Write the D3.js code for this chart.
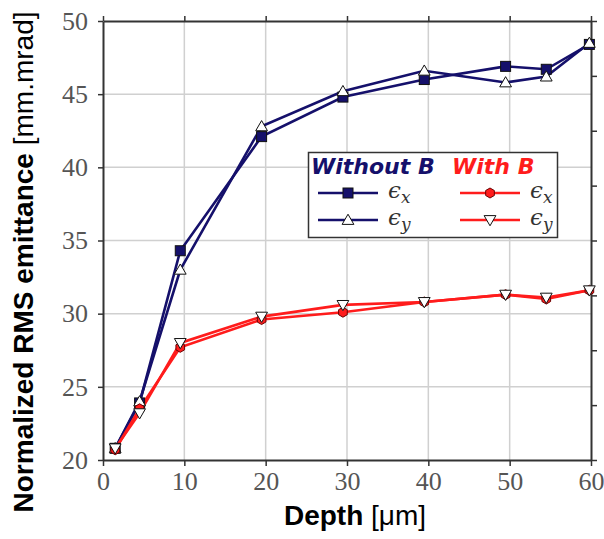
<!DOCTYPE html>
<html>
<head>
<meta charset="utf-8">
<script src="https://cdn.jsdelivr.net/npm/d3@7"></script>
<style>
  body { margin: 0; background: #fff; }
  svg { display: block; }
</style>
</head>
<body>
<script>
// data
var depth = [1.5, 4.5, 9.5, 19.5, 29.5, 39.5, 49.5, 54.5, 59.8]
var sinBx = [20.8, 23.9, 34.3, 42.1, 44.8, 46.0, 46.9, 46.7, 48.4]
var sinBy = [20.8, 24.0, 33.0, 42.8, 45.2, 46.6, 45.8, 46.2, 48.5]
var conBx = [20.7, 23.5, 27.7, 29.6, 30.1, 30.8, 31.3, 31.0, 31.6]
var conBy = [20.8, 23.2, 28.0, 29.8, 30.6, 30.8, 31.3, 31.1, 31.6]
var xTicks = [0, 10, 20, 30, 40, 50, 60]
var yTicks = [20, 25, 30, 35, 40, 45, 50]

var width = 604
var height = 539
var margin = { top: 21, right: 13, bottom: 79, left: 103 }

var navy = "#15106b"
var rojo = "#ff1c1c"

var svg = d3.select("body").append("svg")
  .attr("width", width)
  .attr("height", height)

var escalaX = d3.scaleLinear().domain([0, 60]).range([margin.left, width - margin.right])
var escalaY = d3.scaleLinear().domain([20, 50]).range([height - margin.bottom, margin.top])
// right axis has its own tick spacing (8 intervals), no labels
var escalaDer = d3.scaleLinear().domain([0, 40]).range([height - margin.bottom, margin.top])

// grid
svg.append("g").selectAll("line").data(xTicks.slice(1, -1)).enter().append("line")
  .attr("x1", d => escalaX(d)).attr("x2", d => escalaX(d))
  .attr("y1", escalaY(20)).attr("y2", escalaY(50))
  .attr("stroke", "#d0d0d0").attr("stroke-width", 1.5)
svg.append("g").selectAll("line").data(yTicks.slice(1, -1)).enter().append("line")
  .attr("y1", d => escalaY(d)).attr("y2", d => escalaY(d))
  .attr("x1", escalaX(0)).attr("x2", escalaX(60))
  .attr("stroke", "#d0d0d0").attr("stroke-width", 1.5)

function estiloEje(g) {
  g.select(".domain").attr("stroke", "#333").attr("stroke-width", 2)
  g.selectAll(".tick line").attr("stroke", "#333").attr("stroke-width", 1.5)
  g.selectAll(".tick text")
    .attr("fill", "#555")
    .style("font-family", "'Liberation Serif', 'DejaVu Serif', serif")
    .style("font-size", "26px")
}

svg.append("g")
  .attr("transform", "translate(0," + escalaY(20) + ")")
  .call(d3.axisBottom(escalaX).tickValues(xTicks).tickSizeInner(6).tickSizeOuter(0).tickPadding(6))
  .call(estiloEje)

svg.append("g")
  .attr("transform", "translate(0," + escalaY(50) + ")")
  .call(d3.axisTop(escalaX).tickValues(xTicks).tickSizeInner(5).tickSizeOuter(0).tickFormat(""))
  .call(estiloEje)

svg.append("g")
  .attr("transform", "translate(" + escalaX(0) + ",0)")
  .call(d3.axisLeft(escalaY).tickValues(yTicks).tickSizeInner(5).tickSizeOuter(0).tickPadding(10))
  .call(estiloEje)

svg.append("g")
  .attr("transform", "translate(" + escalaX(60) + ",0)")
  .call(d3.axisRight(escalaDer).ticks(8).tickSizeInner(6).tickSizeOuter(0).tickFormat(""))
  .call(estiloEje)

// series
var series = [
  { vals: sinBx, color: navy, marca: "cuadrado" },
  { vals: sinBy, color: navy, marca: "triArriba" },
  { vals: conBx, color: rojo, marca: "hexagono" },
  { vals: conBy, color: rojo, marca: "triAbajo" }
]

var hexagono = d3.lineRadial().curve(d3.curveLinearClosed)
  .angle(d => d * Math.PI / 3).radius(5)

function pintarMarca(g, tipo) {
  if (tipo == "cuadrado") {
    g.append("rect").attr("x", -5).attr("y", -5).attr("width", 10).attr("height", 10)
      .attr("fill", navy).attr("stroke", "#111").attr("stroke-width", 1)
  } else if (tipo == "triArriba") {
    g.append("path").attr("d", d3.symbol(d3.symbolTriangle, 60)())
      .attr("transform", "translate(0,1)")
      .attr("fill", "#fff").attr("stroke", "#111").attr("stroke-width", 1)
  } else if (tipo == "triAbajo") {
    g.append("path").attr("d", d3.symbol(d3.symbolTriangle, 60)())
      .attr("transform", "translate(0,-1) rotate(180)")
      .attr("fill", "#fff").attr("stroke", "#111").attr("stroke-width", 1)
  } else {
    g.append("path").attr("d", hexagono(d3.range(6)))
      .attr("fill", rojo).attr("stroke", "#6a0000").attr("stroke-width", 1)
  }
}

var linea = d3.line().x((d, i) => escalaX(depth[i])).y(d => escalaY(d))

series.forEach(function (s) {
  svg.append("path")
    .attr("d", linea(s.vals))
    .attr("fill", "none")
    .attr("stroke", s.color)
    .attr("stroke-width", 2.6)
})
series.forEach(function (s) {
  s.vals.forEach(function (v, i) {
    var g = svg.append("g").attr("transform", "translate(" + escalaX(depth[i]) + "," + escalaY(v) + ")")
    pintarMarca(g, s.marca)
  })
})

// legend
var ley = svg.append("g")
ley.append("rect").attr("x", 308.5).attr("y", 152.5).attr("width", 249).attr("height", 85)
  .attr("fill", "#fff").attr("stroke", "#333").attr("stroke-width", 1.5)

var titulos = [
  { txt: "Without B", x: 311, color: navy },
  { txt: "With B", x: 452, color: rojo }
]
titulos.forEach(function (t) {
  ley.append("text").attr("x", t.x).attr("y", 174).text(t.txt)
    .attr("fill", t.color)
    .style("font-family", "'DejaVu Sans', sans-serif")
    .style("font-weight", "bold").style("font-style", "italic")
    .style("font-size", "22px")
})

var filas = [
  { x0: 318, y: 193, s: series[0], sub: "x" },
  { x0: 318, y: 220, s: series[1], sub: "y" },
  { x0: 460, y: 193, s: series[2], sub: "x" },
  { x0: 460, y: 220, s: series[3], sub: "y" }
]
filas.forEach(function (f) {
  ley.append("line").attr("x1", f.x0).attr("x2", f.x0 + 60).attr("y1", f.y).attr("y2", f.y)
    .attr("stroke", f.s.color).attr("stroke-width", 2.6)
  pintarMarca(ley.append("g").attr("transform", "translate(" + (f.x0 + 30) + "," + f.y + ")"), f.s.marca)
  var t = ley.append("text").attr("x", f.x0 + 70).attr("y", f.y + 5)
    .style("font-family", "'DejaVu Serif', serif").style("font-style", "italic")
    .attr("fill", "#333")
  t.append("tspan").text("\u03f5").style("font-size", "23px")
  t.append("tspan").text(f.sub).attr("dy", 5).style("font-size", "17px")
})

// axis titles
var tituloX = svg.append("text")
  .attr("x", 355).attr("y", 525)
  .attr("text-anchor", "middle")
  .style("font-family", "'Liberation Sans', Arial, sans-serif")
  .style("font-size", "28px")
  .attr("fill", "#000")
tituloX.append("tspan").text("Depth").style("font-weight", "bold")
tituloX.append("tspan").text(" [\u03bcm]")

var tituloY = svg.append("text")
  .attr("transform", "translate(33,262) rotate(-90)")
  .attr("text-anchor", "middle")
  .style("font-family", "'Liberation Sans', Arial, sans-serif")
  .style("font-size", "28px")
  .attr("fill", "#000")
tituloY.append("tspan").text("Normalized RMS emittance").style("font-weight", "bold")
tituloY.append("tspan").text(" [mm.mrad]")
</script>
</body>
</html>
